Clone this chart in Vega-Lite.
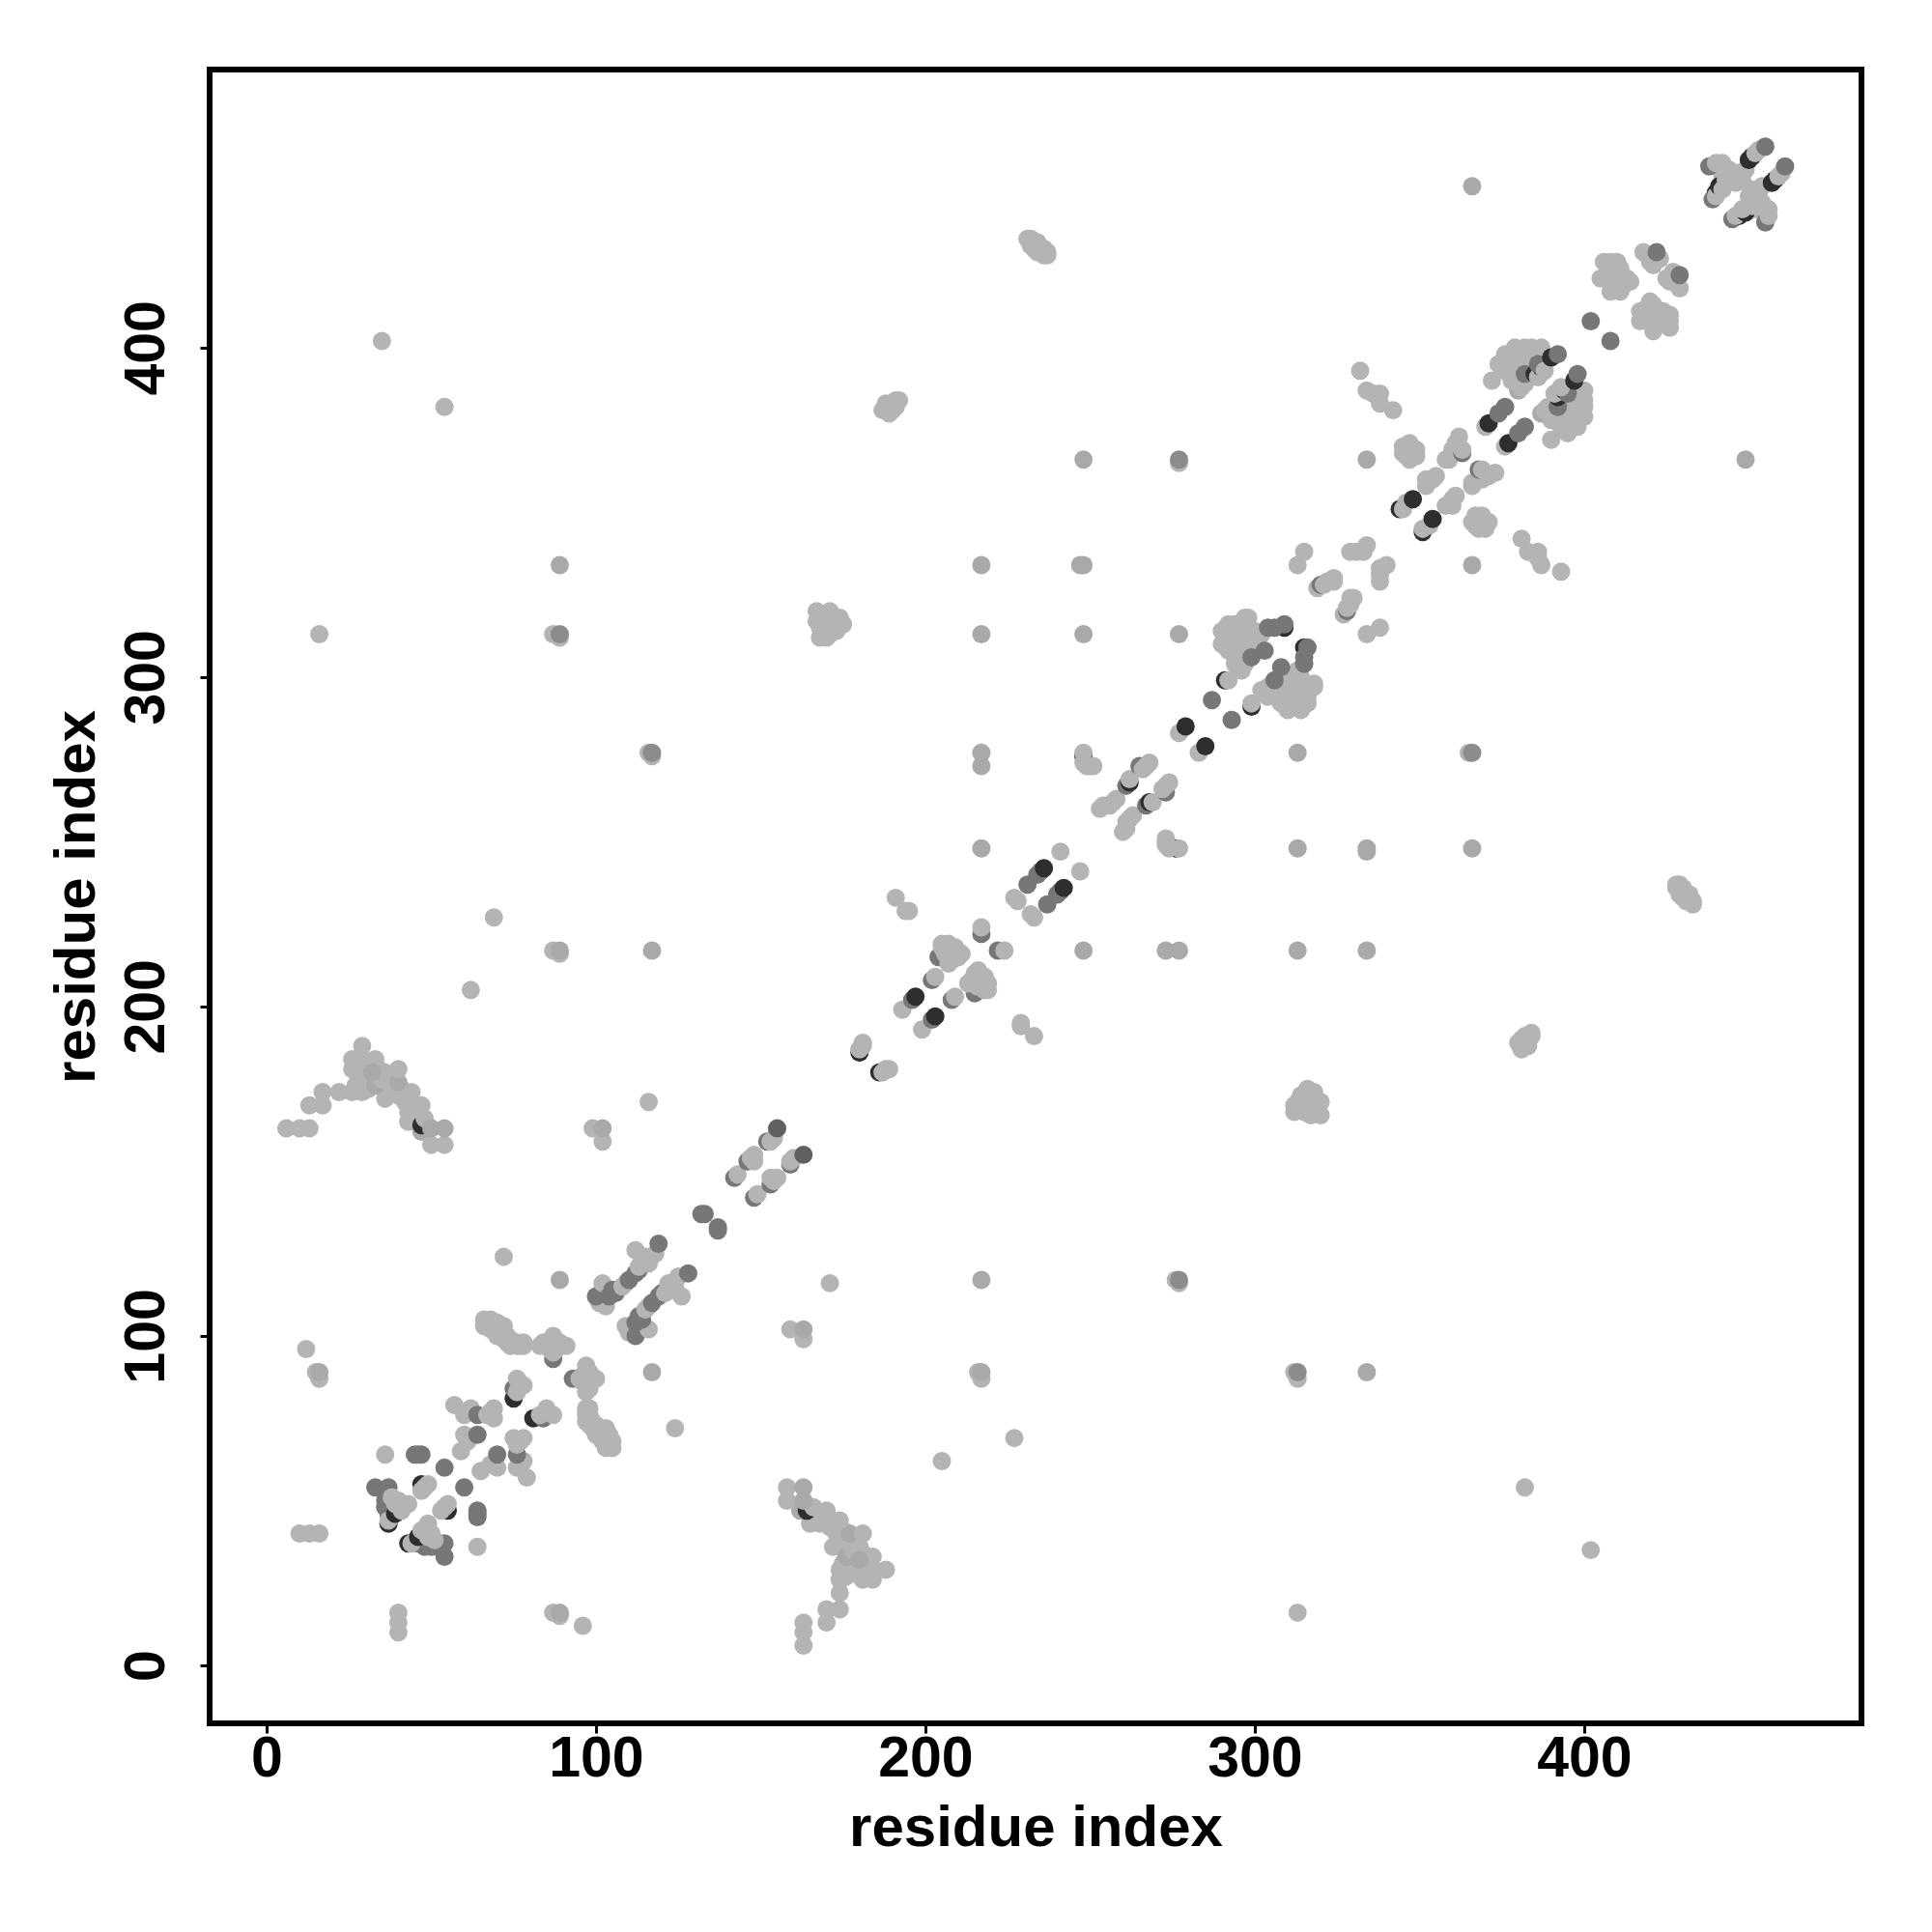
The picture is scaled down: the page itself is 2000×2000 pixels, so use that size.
{"$schema":"https://vega.github.io/schema/vega-lite/v6.json","width":1710,"height":1712,"autosize":"none","padding":{"left":217,"top":72,"right":73,"bottom":216},"background":"white","config":{"view":{"stroke":"black","strokeWidth":6},"axis":{"grid":false,"domain":false,"ticks":true,"tickColor":"black","tickWidth":3,"tickSize":10,"labelFont":"Liberation Sans","labelFontWeight":"bold","labelFontSize":59,"labelColor":"black","titleFont":"Liberation Sans","titleFontWeight":"bold","titleFontSize":60,"titleColor":"black"}},
"data":{"values":[
{"i":66,"j":103,"s":"L"},{"i":68,"j":102,"s":"L"},{"i":70,"j":100,"s":"L"},{"i":68,"j":105,"s":"L"},{"i":70,"j":104,"s":"L"},{"i":72,"j":103,"s":"L"},{"i":73,"j":98,"s":"L"},{"i":74,"j":97,"s":"L"},{"i":76,"j":97,"s":"L"},{"i":78,"j":98,"s":"L"},{"i":293,"j":310,"s":"L"},{"i":293,"j":308,"s":"L"},{"i":296,"j":312,"s":"L"},{"i":297,"j":309,"s":"L"},{"i":298,"j":306,"s":"L"},{"i":300,"j":308,"s":"L"},{"i":296,"j":316,"s":"L"},{"i":294,"j":316,"s":"L"},{"i":298,"j":318,"s":"L"},{"i":290,"j":310,"s":"L"},{"i":290,"j":314,"s":"L"},{"i":294,"j":304,"s":"L"},{"i":297,"j":304,"s":"L"},{"i":232,"j":431,"s":"L"},{"i":234,"j":432,"s":"L"},{"i":233,"j":430,"s":"L"},{"i":236,"j":430,"s":"L"},{"i":237,"j":429,"s":"L"},{"i":234,"j":429,"s":"L"},{"i":188,"j":383,"s":"L"},{"i":190,"j":381,"s":"L"},{"i":191,"j":382,"s":"L"},{"i":189,"j":380,"s":"L"},{"i":378,"j":393,"s":"L"},{"i":377,"j":396,"s":"L"},{"i":375,"j":394,"s":"L"},{"i":379,"j":398,"s":"L"},{"i":381,"j":394,"s":"L"},{"i":383,"j":392,"s":"L"},{"i":206,"j":218,"s":"L"},{"i":207,"j":215,"s":"L"},{"i":169,"j":318,"s":"L"},{"i":173,"j":314,"s":"L"},{"i":174,"j":318,"s":"L"},{"i":170,"j":312,"s":"L"},{"i":407,"j":422,"s":"L"},{"i":410,"j":426,"s":"L"},{"i":412,"j":419,"s":"L"},{"i":442,"j":452,"s":"L"},{"i":445,"j":452,"s":"L"},{"i":448,"j":451,"s":"L"},{"i":41,"j":175,"s":"L"},{"i":34,"j":181,"s":"L"},{"i":30,"j":178,"s":"L"},
{"i":103,"j":66,"s":"L"},{"i":102,"j":68,"s":"L"},{"i":100,"j":70,"s":"L"},{"i":105,"j":68,"s":"L"},{"i":104,"j":70,"s":"L"},{"i":103,"j":72,"s":"L"},{"i":98,"j":73,"s":"L"},{"i":97,"j":74,"s":"L"},{"i":97,"j":76,"s":"L"},{"i":98,"j":78,"s":"L"},{"i":310,"j":293,"s":"L"},{"i":308,"j":293,"s":"L"},{"i":312,"j":296,"s":"L"},{"i":309,"j":297,"s":"L"},{"i":306,"j":298,"s":"L"},{"i":308,"j":300,"s":"L"},{"i":316,"j":296,"s":"L"},{"i":316,"j":294,"s":"L"},{"i":318,"j":298,"s":"L"},{"i":310,"j":290,"s":"L"},{"i":314,"j":290,"s":"L"},{"i":304,"j":294,"s":"L"},{"i":304,"j":297,"s":"L"},{"i":431,"j":232,"s":"L"},{"i":432,"j":234,"s":"L"},{"i":430,"j":233,"s":"L"},{"i":430,"j":236,"s":"L"},{"i":429,"j":237,"s":"L"},{"i":429,"j":234,"s":"L"},{"i":383,"j":188,"s":"L"},{"i":381,"j":190,"s":"L"},{"i":382,"j":191,"s":"L"},{"i":380,"j":189,"s":"L"},{"i":393,"j":378,"s":"L"},{"i":396,"j":377,"s":"L"},{"i":394,"j":375,"s":"L"},{"i":398,"j":379,"s":"L"},{"i":394,"j":381,"s":"L"},{"i":392,"j":383,"s":"L"},{"i":218,"j":206,"s":"L"},{"i":215,"j":207,"s":"L"},{"i":318,"j":169,"s":"L"},{"i":314,"j":173,"s":"L"},{"i":318,"j":174,"s":"L"},{"i":312,"j":170,"s":"L"},{"i":422,"j":407,"s":"L"},{"i":426,"j":410,"s":"L"},{"i":419,"j":412,"s":"L"},{"i":452,"j":442,"s":"L"},{"i":452,"j":445,"s":"L"},{"i":451,"j":448,"s":"L"},{"i":175,"j":41,"s":"L"},{"i":181,"j":34,"s":"L"},{"i":178,"j":30,"s":"L"},
{"i":35,"j":402,"s":"L"},{"i":54,"j":382,"s":"L"},{"i":16,"j":313,"s":"L"},{"i":87,"j":313,"s":"L"},{"i":89,"j":312,"s":"L"},{"i":89,"j":313,"s":"G"},{"i":89,"j":334,"s":"K"},{"i":69,"j":227,"s":"L"},{"i":62,"j":205,"s":"L"},{"i":87,"j":217,"s":"L"},{"i":89,"j":216,"s":"L"},{"i":89,"j":217,"s":"K"},{"i":117,"j":217,"s":"K"},{"i":217,"j":334,"s":"K"},{"i":217,"j":313,"s":"K"},{"i":217,"j":277,"s":"K"},{"i":217,"j":273,"s":"K"},{"i":217,"j":248,"s":"K"},{"i":116,"j":277,"s":"L"},{"i":117,"j":276,"s":"L"},{"i":117,"j":277,"s":"G"},{"i":116,"j":171,"s":"L"},{"i":89,"j":117,"s":"K"},{"i":72,"j":124,"s":"L"},{"i":12,"j":96,"s":"L"},{"i":15,"j":89,"s":"L"},{"i":16,"j":87,"s":"L"},{"i":16,"j":89,"s":"K"},{"i":248,"j":366,"s":"K"},{"i":277,"j":365,"s":"L"},{"i":277,"j":366,"s":"G"},{"i":247,"j":334,"s":"K"},{"i":248,"j":334,"s":"K"},{"i":248,"j":313,"s":"K"},{"i":277,"j":313,"s":"K"},{"i":334,"j":366,"s":"K"},{"i":366,"j":449,"s":"K"},{"i":10,"j":40,"s":"L"},{"i":13,"j":40,"s":"L"},{"i":16,"j":40,"s":"L"},{"i":99,"j":163,"s":"L"},{"i":102,"j":159,"s":"L"},{"i":102,"j":163,"s":"K"},
{"i":33,"j":54,"s":"M"},{"i":37,"j":54,"s":"M"},{"i":45,"j":64,"s":"M"},{"i":47,"j":64,"s":"M"},{"i":46,"j":64,"s":"M"},{"i":54,"j":60,"s":"M"},{"i":36,"j":64,"s":"L"},{"i":47,"j":55,"s":"D"},{"i":47,"j":53,"s":"L"},{"i":49,"j":55,"s":"L"},{"i":48,"j":54,"s":"L"},{"i":36,"j":50,"s":"M"},{"i":36,"j":48,"s":"M"},{"i":37,"j":49,"s":"M"},{"i":37,"j":46,"s":"M"},{"i":37,"j":48,"s":"M"},{"i":37,"j":43,"s":"D"},{"i":37,"j":44,"s":"L"},{"i":38,"j":51,"s":"L"},{"i":39,"j":46,"s":"D"},{"i":39,"j":49,"s":"L"},{"i":41,"j":47,"s":"L"},{"i":43,"j":49,"s":"L"},{"i":40,"j":50,"s":"L"},
{"i":57,"j":79,"s":"L"},{"i":62,"j":78,"s":"L"},{"i":60,"j":76,"s":"L"},{"i":64,"j":76,"s":"M"},{"i":67,"j":76,"s":"L"},{"i":69,"j":78,"s":"L"},{"i":69,"j":75,"s":"L"},{"i":68,"j":77,"s":"L"},{"i":60,"j":70,"s":"L"},{"i":61,"j":68,"s":"L"},{"i":59,"j":65,"s":"L"},{"i":64,"j":70,"s":"M"},{"i":75,"j":81,"s":"D"},{"i":75,"j":84,"s":"M"},{"i":76,"j":87,"s":"L"},{"i":78,"j":85,"s":"L"},{"i":76,"j":83,"s":"L"},{"i":77,"j":85,"s":"L"},
{"i":66,"j":105,"s":"L"},{"i":67,"j":104,"s":"L"},{"i":68,"j":104,"s":"L"},{"i":69,"j":103,"s":"L"},{"i":70,"j":103,"s":"L"},{"i":71,"j":102,"s":"L"},{"i":72,"j":101,"s":"L"},{"i":73,"j":100,"s":"L"},{"i":72,"j":99,"s":"L"},{"i":74,"j":99,"s":"L"},{"i":75,"j":98,"s":"L"},{"i":76,"j":98,"s":"L"},{"i":77,"j":97,"s":"L"},{"i":78,"j":97,"s":"L"},
{"i":87,"j":93,"s":"M"},{"i":84,"j":98,"s":"L"},{"i":87,"j":100,"s":"L"},{"i":91,"j":97,"s":"L"},{"i":88,"j":96,"s":"L"},{"i":83,"j":97,"s":"L"},{"i":86,"j":96,"s":"L"},{"i":89,"j":98,"s":"L"},{"i":87,"j":95,"s":"L"},
{"i":101,"j":110,"s":"L"},{"i":103,"j":109,"s":"L"},{"i":102,"j":114,"s":"L"},{"i":100,"j":112,"s":"M"},{"i":102,"j":116,"s":"L"},{"i":104,"j":112,"s":"M"},{"i":105,"j":114,"s":"M"},{"i":106,"j":113,"s":"M"},{"i":108,"j":115,"s":"L"},{"i":109,"j":116,"s":"L"},{"i":110,"j":117,"s":"M"},{"i":112,"j":119,"s":"M"},{"i":113,"j":120,"s":"M"},{"i":112,"j":126,"s":"L"},{"i":113,"j":121,"s":"L"},{"i":115,"j":124,"s":"L"},{"i":118,"j":125,"s":"L"},{"i":116,"j":122,"s":"L"},{"i":114,"j":123,"s":"L"},{"i":119,"j":128,"s":"M"},{"i":132,"j":137,"s":"M"},{"i":133,"j":137,"s":"M"},
{"i":142,"j":148,"s":"M"},{"i":143,"j":149,"s":"L"},{"i":146,"j":153,"s":"M"},{"i":147,"j":154,"s":"L"},{"i":148,"j":155,"s":"L"},{"i":148,"j":153,"s":"L"},{"i":152,"j":159,"s":"M"},{"i":153,"j":159,"s":"L"},{"i":154,"j":160,"s":"L"},{"i":155,"j":163,"s":"N"},
{"i":180,"j":186,"s":"D"},{"i":180,"j":187,"s":"L"},{"i":181,"j":188,"s":"L"},{"i":181,"j":189,"s":"L"},
{"i":6,"j":163,"s":"L"},{"i":10,"j":163,"s":"L"},{"i":13,"j":163,"s":"L"},{"i":13,"j":170,"s":"L"},{"i":17,"j":170,"s":"L"},{"i":17,"j":174,"s":"L"},{"i":22,"j":174,"s":"L"},{"i":26,"j":174,"s":"L"},{"i":29,"j":174,"s":"L"},{"i":29,"j":177,"s":"L"},{"i":29,"j":180,"s":"L"},{"i":27,"j":176,"s":"L"},{"i":28,"j":178,"s":"L"},{"i":31,"j":175,"s":"L"},{"i":31,"j":178,"s":"L"},{"i":26,"j":181,"s":"L"},{"i":26,"j":184,"s":"L"},{"i":29,"j":184,"s":"L"},{"i":29,"j":188,"s":"L"},{"i":36,"j":172,"s":"L"},{"i":38,"j":174,"s":"L"},{"i":36,"j":175,"s":"L"},{"i":33,"j":176,"s":"K"},{"i":35,"j":178,"s":"L"},{"i":38,"j":178,"s":"L"},{"i":37,"j":177,"s":"L"},{"i":36,"j":180,"s":"L"},{"i":33,"j":184,"s":"L"},{"i":32,"j":180,"s":"K"},{"i":40,"j":173,"s":"L"},{"i":40,"j":177,"s":"K"},{"i":40,"j":181,"s":"L"},{"i":42,"j":171,"s":"L"},{"i":43,"j":168,"s":"L"},{"i":44,"j":171,"s":"L"},{"i":44,"j":174,"s":"L"},{"i":43,"j":165,"s":"L"},{"i":47,"j":162,"s":"K"},{"i":47,"j":164,"s":"D"},{"i":48,"j":166,"s":"L"},{"i":47,"j":170,"s":"L"},{"i":50,"j":158,"s":"L"},{"i":50,"j":163,"s":"K"},{"i":54,"j":158,"s":"L"},{"i":54,"j":163,"s":"K"},
{"i":191,"j":233,"s":"L"},{"i":194,"j":229,"s":"L"},{"i":195,"j":229,"s":"L"},{"i":193,"j":199,"s":"L"},{"i":196,"j":202,"s":"M"},{"i":197,"j":203,"s":"D"},{"i":202,"j":208,"s":"M"},{"i":203,"j":209,"s":"L"},{"i":204,"j":215,"s":"M"},{"i":205,"j":219,"s":"L"},{"i":207,"j":219,"s":"L"},{"i":205,"j":218,"s":"L"},{"i":209,"j":218,"s":"L"},{"i":209,"j":216,"s":"L"},{"i":211,"j":216,"s":"L"},{"i":206,"j":216,"s":"L"},{"i":208,"j":214,"s":"L"},{"i":210,"j":215,"s":"L"},{"i":207,"j":213,"s":"L"},{"i":208,"j":217,"s":"L"},{"i":217,"j":222,"s":"M"},{"i":217,"j":224,"s":"L"},
{"i":227,"j":233,"s":"L"},{"i":228,"j":232,"s":"L"},{"i":231,"j":237,"s":"M"},{"i":234,"j":240,"s":"M"},{"i":235,"j":241,"s":"M"},{"i":236,"j":242,"s":"D"},{"i":241,"j":247,"s":"L"},
{"i":248,"j":276,"s":"D"},{"i":248,"j":277,"s":"L"},{"i":250,"j":273,"s":"L"},{"i":248,"j":274,"s":"L"},{"i":251,"j":273,"s":"L"},{"i":249,"j":273,"s":"L"},
{"i":253,"j":260,"s":"L"},{"i":254,"j":261,"s":"L"},{"i":256,"j":261,"s":"L"},{"i":257,"j":262,"s":"L"},{"i":258,"j":263,"s":"L"},{"i":261,"j":267,"s":"M"},{"i":262,"j":268,"s":"D"},{"i":262,"j":269,"s":"L"},{"i":265,"j":273,"s":"M"},{"i":266,"j":272,"s":"L"},{"i":267,"j":273,"s":"L"},{"i":268,"j":274,"s":"L"},{"i":277,"j":283,"s":"L"},{"i":279,"j":285,"s":"D"},
{"i":287,"j":293,"s":"M"},{"i":291,"j":299,"s":"D"},{"i":292,"j":299,"s":"L"},{"i":292,"j":308,"s":"L"},{"i":291,"j":312,"s":"L"},{"i":292,"j":316,"s":"L"},{"i":295,"j":315,"s":"L"},{"i":297,"j":318,"s":"L"},{"i":295,"j":310,"s":"L"},{"i":294,"j":306,"s":"L"},{"i":299,"j":311,"s":"L"},{"i":302,"j":313,"s":"L"},{"i":296,"j":302,"s":"L"},{"i":293,"j":313,"s":"L"},{"i":298,"j":315,"s":"L"},{"i":299,"j":306,"s":"M"},{"i":303,"j":308,"s":"M"},{"i":300,"j":314,"s":"L"},{"i":309,"j":315,"s":"D"},{"i":304,"j":315,"s":"M"},{"i":306,"j":315,"s":"M"},{"i":309,"j":316,"s":"M"},
{"i":319,"j":327,"s":"L"},{"i":320,"j":328,"s":"M"},{"i":321,"j":328,"s":"L"},{"i":322,"j":329,"s":"L"},{"i":324,"j":330,"s":"L"},{"i":324,"j":329,"s":"L"},{"i":331,"j":338,"s":"L"},{"i":333,"j":338,"s":"L"},{"i":334,"j":340,"s":"L"},{"i":329,"j":338,"s":"L"},{"i":313,"j":334,"s":"L"},{"i":315,"j":338,"s":"L"},
{"i":332,"j":393,"s":"L"},{"i":334,"j":387,"s":"L"},{"i":336,"j":386,"s":"L"},{"i":338,"j":386,"s":"L"},{"i":338,"j":383,"s":"L"},{"i":342,"j":381,"s":"L"},{"i":345,"j":368,"s":"L"},{"i":347,"j":371,"s":"L"},{"i":349,"j":369,"s":"L"},{"i":345,"j":370,"s":"L"},{"i":347,"j":366,"s":"L"},{"i":349,"j":367,"s":"L"},{"i":346,"j":367,"s":"L"},
{"i":344,"j":351,"s":"D"},{"i":345,"j":351,"s":"L"},{"i":346,"j":353,"s":"L"},{"i":348,"j":354,"s":"D"},{"i":352,"j":360,"s":"L"},{"i":354,"j":360,"s":"L"},{"i":355,"j":361,"s":"L"},{"i":352,"j":358,"s":"L"},{"i":359,"j":366,"s":"L"},{"i":358,"j":366,"s":"L"},{"i":360,"j":369,"s":"L"},{"i":362,"j":373,"s":"L"},{"i":363,"j":368,"s":"M"},{"i":363,"j":369,"s":"L"},{"i":361,"j":371,"s":"L"},
{"i":370,"j":376,"s":"L"},{"i":371,"j":377,"s":"D"},{"i":374,"j":380,"s":"M"},{"i":376,"j":382,"s":"M"},
{"i":380,"j":387,"s":"K"},{"i":374,"j":395,"s":"L"},{"i":376,"j":398,"s":"L"},{"i":379,"j":400,"s":"L"},{"i":382,"j":400,"s":"L"},{"i":379,"j":396,"s":"L"},{"i":381,"j":396,"s":"L"},{"i":378,"j":390,"s":"L"},{"i":372,"j":390,"s":"L"},{"i":382,"j":389,"s":"L"},{"i":383,"j":398,"s":"L"},{"i":380,"j":392,"s":"L"},{"i":381,"j":388,"s":"L"},{"i":376,"j":393,"s":"L"},{"i":384,"j":400,"s":"L"},{"i":387,"j":400,"s":"L"},{"i":382,"j":392,"s":"M"},{"i":385,"j":392,"s":"D"},{"i":386,"j":391,"s":"L"},{"i":387,"j":394,"s":"D"},{"i":386,"j":395,"s":"M"},{"i":388,"j":393,"s":"L"},{"i":390,"j":397,"s":"D"},{"i":392,"j":398,"s":"M"},
{"i":402,"j":408,"s":"M"},{"i":406,"j":426,"s":"L"},{"i":408,"j":426,"s":"L"},{"i":405,"j":421,"s":"L"},{"i":411,"j":424,"s":"L"},{"i":413,"j":421,"s":"L"},{"i":414,"j":420,"s":"L"},{"i":408,"j":417,"s":"L"},{"i":411,"j":417,"s":"L"},{"i":410,"j":420,"s":"L"},{"i":409,"j":423,"s":"L"},{"i":418,"j":429,"s":"L"},{"i":420,"j":426,"s":"L"},{"i":423,"j":427,"s":"L"},{"i":421,"j":425,"s":"L"},{"i":422,"j":429,"s":"M"},
{"i":439,"j":445,"s":"M"},{"i":440,"j":447,"s":"D"},{"i":440,"j":446,"s":"L"},{"i":441,"j":449,"s":"D"},{"i":442,"j":448,"s":"L"},{"i":438,"j":455,"s":"M"},{"i":440,"j":456,"s":"L"},{"i":444,"j":454,"s":"L"},{"i":447,"j":453,"s":"L"},{"i":449,"j":454,"s":"L"},{"i":446,"j":450,"s":"L"},{"i":443,"j":451,"s":"L"},{"i":442,"j":456,"s":"L"},{"i":450,"j":457,"s":"D"},{"i":451,"j":458,"s":"D"},{"i":452,"j":459,"s":"L"},{"i":453,"j":460,"s":"L"},{"i":455,"j":461,"s":"M"},
{"i":168,"j":312,"s":"L"},{"i":171,"j":313,"s":"L"},{"i":175,"j":316,"s":"L"},{"i":167,"j":317,"s":"L"},{"i":167,"j":320,"s":"L"},{"i":171,"j":320,"s":"L"},{"i":170,"j":316,"s":"L"},{"i":168,"j":315,"s":"L"},{"i":172,"j":317,"s":"L"},
{"i":231,"j":433,"s":"L"},{"i":232,"j":433,"s":"L"},{"i":233,"j":432,"s":"L"},{"i":234,"j":431,"s":"L"},{"i":235,"j":430,"s":"L"},{"i":235,"j":429,"s":"L"},{"i":236,"j":428,"s":"L"},{"i":237,"j":428,"s":"L"},{"i":187,"j":381,"s":"L"},{"i":188,"j":381,"s":"L"},{"i":189,"j":382,"s":"L"},{"i":190,"j":383,"s":"L"},{"i":191,"j":384,"s":"L"},{"i":192,"j":384,"s":"L"},
{"i":402,"j":35,"s":"L"},{"i":382,"j":54,"s":"L"},{"i":313,"j":16,"s":"L"},{"i":313,"j":87,"s":"L"},{"i":312,"j":89,"s":"L"},{"i":313,"j":89,"s":"G"},{"i":334,"j":89,"s":"K"},{"i":227,"j":69,"s":"L"},{"i":205,"j":62,"s":"L"},{"i":217,"j":87,"s":"L"},{"i":216,"j":89,"s":"L"},{"i":217,"j":89,"s":"K"},{"i":217,"j":117,"s":"K"},{"i":334,"j":217,"s":"K"},{"i":313,"j":217,"s":"K"},{"i":277,"j":217,"s":"K"},{"i":273,"j":217,"s":"K"},{"i":248,"j":217,"s":"K"},{"i":277,"j":116,"s":"L"},{"i":276,"j":117,"s":"L"},{"i":277,"j":117,"s":"G"},{"i":171,"j":116,"s":"L"},{"i":117,"j":89,"s":"K"},{"i":124,"j":72,"s":"L"},{"i":96,"j":12,"s":"L"},{"i":89,"j":15,"s":"L"},{"i":87,"j":16,"s":"L"},{"i":89,"j":16,"s":"K"},{"i":366,"j":248,"s":"K"},{"i":365,"j":277,"s":"L"},{"i":366,"j":277,"s":"G"},{"i":334,"j":247,"s":"K"},{"i":334,"j":248,"s":"K"},{"i":313,"j":248,"s":"K"},{"i":313,"j":277,"s":"K"},{"i":366,"j":334,"s":"K"},{"i":449,"j":366,"s":"K"},{"i":40,"j":10,"s":"L"},{"i":40,"j":13,"s":"L"},{"i":40,"j":16,"s":"L"},{"i":163,"j":99,"s":"L"},{"i":159,"j":102,"s":"L"},{"i":163,"j":102,"s":"K"},
{"i":54,"j":33,"s":"M"},{"i":54,"j":37,"s":"M"},{"i":64,"j":45,"s":"M"},{"i":64,"j":47,"s":"M"},{"i":64,"j":46,"s":"M"},{"i":60,"j":54,"s":"M"},{"i":64,"j":36,"s":"L"},{"i":55,"j":47,"s":"D"},{"i":53,"j":47,"s":"L"},{"i":55,"j":49,"s":"L"},{"i":54,"j":48,"s":"L"},{"i":50,"j":36,"s":"M"},{"i":48,"j":36,"s":"M"},{"i":49,"j":37,"s":"M"},{"i":46,"j":37,"s":"M"},{"i":48,"j":37,"s":"M"},{"i":43,"j":37,"s":"D"},{"i":44,"j":37,"s":"L"},{"i":51,"j":38,"s":"L"},{"i":46,"j":39,"s":"D"},{"i":49,"j":39,"s":"L"},{"i":47,"j":41,"s":"L"},{"i":49,"j":43,"s":"L"},{"i":50,"j":40,"s":"L"},
{"i":79,"j":57,"s":"L"},{"i":78,"j":62,"s":"L"},{"i":76,"j":60,"s":"L"},{"i":76,"j":64,"s":"M"},{"i":76,"j":67,"s":"L"},{"i":78,"j":69,"s":"L"},{"i":75,"j":69,"s":"L"},{"i":77,"j":68,"s":"L"},{"i":70,"j":60,"s":"L"},{"i":68,"j":61,"s":"L"},{"i":65,"j":59,"s":"L"},{"i":70,"j":64,"s":"M"},{"i":81,"j":75,"s":"D"},{"i":84,"j":75,"s":"M"},{"i":87,"j":76,"s":"L"},{"i":85,"j":78,"s":"L"},{"i":83,"j":76,"s":"L"},{"i":85,"j":77,"s":"L"},
{"i":105,"j":66,"s":"L"},{"i":104,"j":67,"s":"L"},{"i":104,"j":68,"s":"L"},{"i":103,"j":69,"s":"L"},{"i":103,"j":70,"s":"L"},{"i":102,"j":71,"s":"L"},{"i":101,"j":72,"s":"L"},{"i":100,"j":73,"s":"L"},{"i":99,"j":72,"s":"L"},{"i":99,"j":74,"s":"L"},{"i":98,"j":75,"s":"L"},{"i":98,"j":76,"s":"L"},{"i":97,"j":77,"s":"L"},{"i":97,"j":78,"s":"L"},
{"i":93,"j":87,"s":"M"},{"i":98,"j":84,"s":"L"},{"i":100,"j":87,"s":"L"},{"i":97,"j":91,"s":"L"},{"i":96,"j":88,"s":"L"},{"i":97,"j":83,"s":"L"},{"i":96,"j":86,"s":"L"},{"i":98,"j":89,"s":"L"},{"i":95,"j":87,"s":"L"},
{"i":110,"j":101,"s":"L"},{"i":109,"j":103,"s":"L"},{"i":114,"j":102,"s":"L"},{"i":112,"j":100,"s":"M"},{"i":116,"j":102,"s":"L"},{"i":112,"j":104,"s":"M"},{"i":114,"j":105,"s":"M"},{"i":113,"j":106,"s":"M"},{"i":115,"j":108,"s":"L"},{"i":116,"j":109,"s":"L"},{"i":117,"j":110,"s":"M"},{"i":119,"j":112,"s":"M"},{"i":120,"j":113,"s":"M"},{"i":126,"j":112,"s":"L"},{"i":121,"j":113,"s":"L"},{"i":124,"j":115,"s":"L"},{"i":125,"j":118,"s":"L"},{"i":122,"j":116,"s":"L"},{"i":123,"j":114,"s":"L"},{"i":128,"j":119,"s":"M"},{"i":137,"j":132,"s":"M"},{"i":137,"j":133,"s":"M"},
{"i":148,"j":142,"s":"M"},{"i":149,"j":143,"s":"L"},{"i":153,"j":146,"s":"M"},{"i":154,"j":147,"s":"L"},{"i":155,"j":148,"s":"L"},{"i":153,"j":148,"s":"L"},{"i":159,"j":152,"s":"M"},{"i":159,"j":153,"s":"L"},{"i":160,"j":154,"s":"L"},{"i":163,"j":155,"s":"N"},
{"i":186,"j":180,"s":"D"},{"i":187,"j":180,"s":"L"},{"i":188,"j":181,"s":"L"},{"i":189,"j":181,"s":"L"},
{"i":163,"j":6,"s":"L"},{"i":163,"j":10,"s":"L"},{"i":163,"j":13,"s":"L"},{"i":170,"j":13,"s":"L"},{"i":170,"j":17,"s":"L"},{"i":174,"j":17,"s":"L"},{"i":174,"j":22,"s":"L"},{"i":174,"j":26,"s":"L"},{"i":174,"j":29,"s":"L"},{"i":177,"j":29,"s":"L"},{"i":180,"j":29,"s":"L"},{"i":176,"j":27,"s":"L"},{"i":178,"j":28,"s":"L"},{"i":175,"j":31,"s":"L"},{"i":178,"j":31,"s":"L"},{"i":181,"j":26,"s":"L"},{"i":184,"j":26,"s":"L"},{"i":184,"j":29,"s":"L"},{"i":188,"j":29,"s":"L"},{"i":172,"j":36,"s":"L"},{"i":174,"j":38,"s":"L"},{"i":175,"j":36,"s":"L"},{"i":176,"j":33,"s":"K"},{"i":178,"j":35,"s":"L"},{"i":178,"j":38,"s":"L"},{"i":177,"j":37,"s":"L"},{"i":180,"j":36,"s":"L"},{"i":184,"j":33,"s":"L"},{"i":180,"j":32,"s":"K"},{"i":173,"j":40,"s":"L"},{"i":177,"j":40,"s":"K"},{"i":181,"j":40,"s":"L"},{"i":171,"j":42,"s":"L"},{"i":168,"j":43,"s":"L"},{"i":171,"j":44,"s":"L"},{"i":174,"j":44,"s":"L"},{"i":165,"j":43,"s":"L"},{"i":162,"j":47,"s":"K"},{"i":164,"j":47,"s":"D"},{"i":166,"j":48,"s":"L"},{"i":170,"j":47,"s":"L"},{"i":158,"j":50,"s":"L"},{"i":163,"j":50,"s":"K"},{"i":158,"j":54,"s":"L"},{"i":163,"j":54,"s":"K"},
{"i":233,"j":191,"s":"L"},{"i":229,"j":194,"s":"L"},{"i":229,"j":195,"s":"L"},{"i":199,"j":193,"s":"L"},{"i":202,"j":196,"s":"M"},{"i":203,"j":197,"s":"D"},{"i":208,"j":202,"s":"M"},{"i":209,"j":203,"s":"L"},{"i":215,"j":204,"s":"M"},{"i":219,"j":205,"s":"L"},{"i":219,"j":207,"s":"L"},{"i":218,"j":205,"s":"L"},{"i":218,"j":209,"s":"L"},{"i":216,"j":209,"s":"L"},{"i":216,"j":211,"s":"L"},{"i":216,"j":206,"s":"L"},{"i":214,"j":208,"s":"L"},{"i":215,"j":210,"s":"L"},{"i":213,"j":207,"s":"L"},{"i":217,"j":208,"s":"L"},{"i":222,"j":217,"s":"M"},{"i":224,"j":217,"s":"L"},
{"i":233,"j":227,"s":"L"},{"i":232,"j":228,"s":"L"},{"i":237,"j":231,"s":"M"},{"i":240,"j":234,"s":"M"},{"i":241,"j":235,"s":"M"},{"i":242,"j":236,"s":"D"},{"i":247,"j":241,"s":"L"},
{"i":276,"j":248,"s":"D"},{"i":277,"j":248,"s":"L"},{"i":273,"j":250,"s":"L"},{"i":274,"j":248,"s":"L"},{"i":273,"j":251,"s":"L"},{"i":273,"j":249,"s":"L"},
{"i":260,"j":253,"s":"L"},{"i":261,"j":254,"s":"L"},{"i":261,"j":256,"s":"L"},{"i":262,"j":257,"s":"L"},{"i":263,"j":258,"s":"L"},{"i":267,"j":261,"s":"M"},{"i":268,"j":262,"s":"D"},{"i":269,"j":262,"s":"L"},{"i":273,"j":265,"s":"M"},{"i":272,"j":266,"s":"L"},{"i":273,"j":267,"s":"L"},{"i":274,"j":268,"s":"L"},{"i":283,"j":277,"s":"L"},{"i":285,"j":279,"s":"D"},
{"i":293,"j":287,"s":"M"},{"i":299,"j":291,"s":"D"},{"i":299,"j":292,"s":"L"},{"i":308,"j":292,"s":"L"},{"i":312,"j":291,"s":"L"},{"i":316,"j":292,"s":"L"},{"i":315,"j":295,"s":"L"},{"i":318,"j":297,"s":"L"},{"i":310,"j":295,"s":"L"},{"i":306,"j":294,"s":"L"},{"i":311,"j":299,"s":"L"},{"i":313,"j":302,"s":"L"},{"i":302,"j":296,"s":"L"},{"i":313,"j":293,"s":"L"},{"i":315,"j":298,"s":"L"},{"i":306,"j":299,"s":"M"},{"i":308,"j":303,"s":"M"},{"i":314,"j":300,"s":"L"},{"i":315,"j":309,"s":"D"},{"i":315,"j":304,"s":"M"},{"i":315,"j":306,"s":"M"},{"i":316,"j":309,"s":"M"},
{"i":327,"j":319,"s":"L"},{"i":328,"j":320,"s":"M"},{"i":328,"j":321,"s":"L"},{"i":329,"j":322,"s":"L"},{"i":330,"j":324,"s":"L"},{"i":329,"j":324,"s":"L"},{"i":338,"j":331,"s":"L"},{"i":338,"j":333,"s":"L"},{"i":340,"j":334,"s":"L"},{"i":338,"j":329,"s":"L"},{"i":334,"j":313,"s":"L"},{"i":338,"j":315,"s":"L"},
{"i":393,"j":332,"s":"L"},{"i":387,"j":334,"s":"L"},{"i":386,"j":336,"s":"L"},{"i":386,"j":338,"s":"L"},{"i":383,"j":338,"s":"L"},{"i":381,"j":342,"s":"L"},{"i":368,"j":345,"s":"L"},{"i":371,"j":347,"s":"L"},{"i":369,"j":349,"s":"L"},{"i":370,"j":345,"s":"L"},{"i":366,"j":347,"s":"L"},{"i":367,"j":349,"s":"L"},{"i":367,"j":346,"s":"L"},
{"i":351,"j":344,"s":"D"},{"i":351,"j":345,"s":"L"},{"i":353,"j":346,"s":"L"},{"i":354,"j":348,"s":"D"},{"i":360,"j":352,"s":"L"},{"i":360,"j":354,"s":"L"},{"i":361,"j":355,"s":"L"},{"i":358,"j":352,"s":"L"},{"i":366,"j":359,"s":"L"},{"i":366,"j":358,"s":"L"},{"i":369,"j":360,"s":"L"},{"i":373,"j":362,"s":"L"},{"i":368,"j":363,"s":"M"},{"i":369,"j":363,"s":"L"},{"i":371,"j":361,"s":"L"},
{"i":376,"j":370,"s":"L"},{"i":377,"j":371,"s":"D"},{"i":380,"j":374,"s":"M"},{"i":382,"j":376,"s":"M"},
{"i":387,"j":380,"s":"K"},{"i":395,"j":374,"s":"L"},{"i":398,"j":376,"s":"L"},{"i":400,"j":379,"s":"L"},{"i":400,"j":382,"s":"L"},{"i":396,"j":379,"s":"L"},{"i":396,"j":381,"s":"L"},{"i":390,"j":378,"s":"L"},{"i":390,"j":372,"s":"L"},{"i":389,"j":382,"s":"L"},{"i":398,"j":383,"s":"L"},{"i":392,"j":380,"s":"L"},{"i":388,"j":381,"s":"L"},{"i":393,"j":376,"s":"L"},{"i":400,"j":384,"s":"L"},{"i":400,"j":387,"s":"L"},{"i":392,"j":382,"s":"M"},{"i":392,"j":385,"s":"D"},{"i":391,"j":386,"s":"L"},{"i":394,"j":387,"s":"D"},{"i":395,"j":386,"s":"M"},{"i":393,"j":388,"s":"L"},{"i":397,"j":390,"s":"D"},{"i":398,"j":392,"s":"M"},
{"i":408,"j":402,"s":"M"},{"i":426,"j":406,"s":"L"},{"i":426,"j":408,"s":"L"},{"i":421,"j":405,"s":"L"},{"i":424,"j":411,"s":"L"},{"i":421,"j":413,"s":"L"},{"i":420,"j":414,"s":"L"},{"i":417,"j":408,"s":"L"},{"i":417,"j":411,"s":"L"},{"i":420,"j":410,"s":"L"},{"i":423,"j":409,"s":"L"},{"i":429,"j":418,"s":"L"},{"i":426,"j":420,"s":"L"},{"i":427,"j":423,"s":"L"},{"i":425,"j":421,"s":"L"},{"i":429,"j":422,"s":"M"},
{"i":445,"j":439,"s":"M"},{"i":447,"j":440,"s":"D"},{"i":446,"j":440,"s":"L"},{"i":449,"j":441,"s":"D"},{"i":448,"j":442,"s":"L"},{"i":455,"j":438,"s":"M"},{"i":456,"j":440,"s":"L"},{"i":454,"j":444,"s":"L"},{"i":453,"j":447,"s":"L"},{"i":454,"j":449,"s":"L"},{"i":450,"j":446,"s":"L"},{"i":451,"j":443,"s":"L"},{"i":456,"j":442,"s":"L"},{"i":457,"j":450,"s":"D"},{"i":458,"j":451,"s":"D"},{"i":459,"j":452,"s":"L"},{"i":460,"j":453,"s":"L"},{"i":461,"j":455,"s":"M"},
{"i":312,"j":168,"s":"L"},{"i":313,"j":171,"s":"L"},{"i":316,"j":175,"s":"L"},{"i":317,"j":167,"s":"L"},{"i":320,"j":167,"s":"L"},{"i":320,"j":171,"s":"L"},{"i":316,"j":170,"s":"L"},{"i":315,"j":168,"s":"L"},{"i":317,"j":172,"s":"L"},
{"i":433,"j":231,"s":"L"},{"i":433,"j":232,"s":"L"},{"i":432,"j":233,"s":"L"},{"i":431,"j":234,"s":"L"},{"i":430,"j":235,"s":"L"},{"i":429,"j":235,"s":"L"},{"i":428,"j":236,"s":"L"},{"i":428,"j":237,"s":"L"},{"i":381,"j":187,"s":"L"},{"i":381,"j":188,"s":"L"},{"i":382,"j":189,"s":"L"},{"i":383,"j":190,"s":"L"},{"i":384,"j":191,"s":"L"},{"i":384,"j":192,"s":"L"}
]},
"mark":{"type":"point","shape":"circle","filled":true,"opacity":1,"size":360,"clip":true},
"encoding":{
"x":{"field":"i","type":"quantitative","scale":{"domain":[-17.3,484.2],"nice":false,"zero":false},"axis":{"values":[0,100,200,300,400],"title":"residue index","labelPadding":-3,"titlePadding":13,"labelFlush":false}},
"y":{"field":"j","type":"quantitative","scale":{"domain":[-17.6,484.4],"nice":false,"zero":false},"axis":{"values":[0,100,200,300,400],"title":"residue index","labelAngle":-90,"labelAlign":"center","labelBaseline":"bottom","labelPadding":26,"titlePadding":12}},
"color":{"field":"s","type":"nominal","legend":null,"scale":{"domain":["L","K","G","M","N","D"],"range":["#b4b4b4","#a9a9a9","#8c8c8c","#777777","#606060","#2e2e2e"]}}
}}
